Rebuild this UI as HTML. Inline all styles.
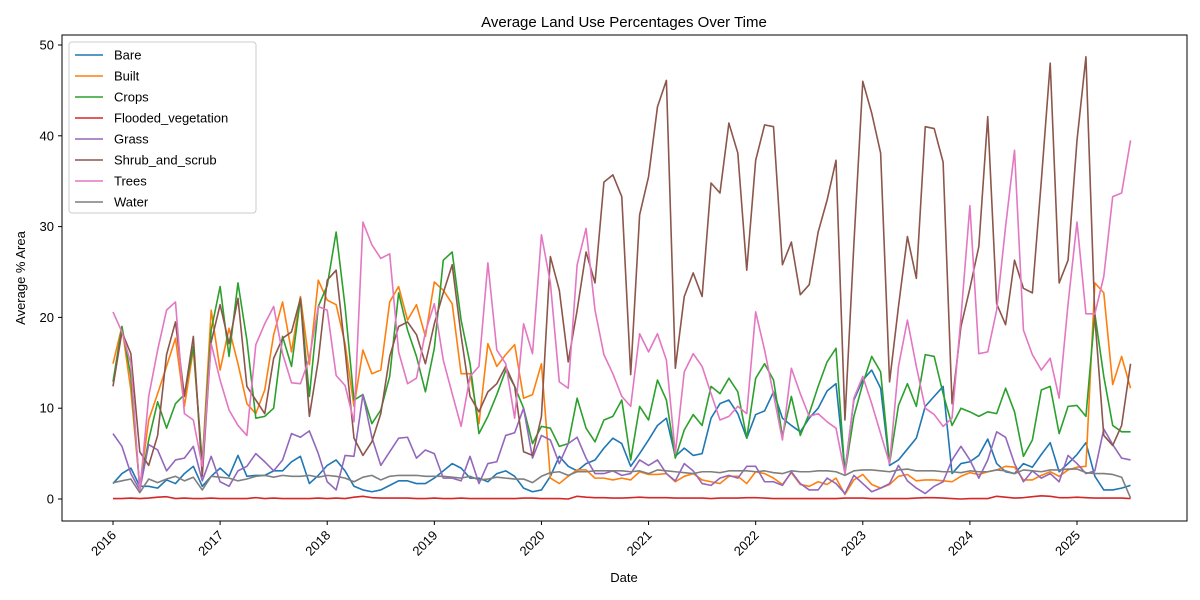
<!DOCTYPE html>
<html><head><meta charset="utf-8">
<style>
body{margin:0;background:#fff;}
svg{display:block;font-family:"Liberation Sans","DejaVu Sans",sans-serif;}
</style></head>
<body>
<svg id="chart" width="1200" height="600" viewBox="0 0 1200 600">
<rect width="1200" height="600" fill="#fff"/>
<text x="624" y="27" text-anchor="middle" font-size="15" fill="#000">Average Land Use Percentages Over Time</text>
<g id="grid"></g>
<g id="series"></g>
<rect x="62" y="35" width="1125" height="486" fill="none" stroke="#000" stroke-width="1"/>
<g id="axes"></g>
<text x="624" y="582" text-anchor="middle" font-size="13">Date</text>
<text x="25" y="278" text-anchor="middle" font-size="13" transform="rotate(-90 25 278)">Average % Area</text>
<g id="legend"></g>
</svg>
<script>
const names=["Bare","Built","Crops","Flooded_vegetation","Grass","Shrub_and_scrub","Trees","Water"];
const colors=["#1f77b4","#ff7f0e","#2ca02c","#d62728","#9467bd","#8c564b","#e377c2","#7f7f7f"];
const yearTicks=[2016,2017,2018,2019,2020,2021,2022,2023,2024,2025];
const yTicks=[0,10,20,30,40,50];
const bare=[1.7,2.8,3.4,1.4,1.4,1.2,2.1,1.7,2.8,3.6,1.4,2.5,3.4,2.5,4.8,2.5,2.6,2.6,3.1,3.1,4.1,4.7,1.7,2.6,3.7,4.3,3.1,1.4,1.0,0.8,1.0,1.5,2.0,2.0,1.7,1.7,2.3,3.1,3.9,3.4,2.3,2.3,1.9,2.8,3.1,2.5,1.2,0.8,1.0,2.5,4.7,3.6,3.1,3.9,4.3,5.6,6.7,6.1,3.6,5.0,6.5,8.1,8.9,4.7,5.6,4.8,5.0,8.9,10.5,10.9,9.4,6.7,9.3,9.7,11.8,8.9,8.1,7.4,8.9,10.0,11.9,12.7,3.1,10.9,13.1,14.2,12.2,3.7,4.3,5.5,6.7,10.2,11.3,12.4,2.8,3.9,4.1,4.8,6.6,3.9,3.0,2.8,3.9,3.5,4.9,6.2,3.0,3.9,4.9,6.2,2.5,1.0,1.0,1.2,1.5];
const built=[14.9,19.0,12.0,1.3,8.7,11.6,14.6,17.7,10.2,16.5,3.9,20.8,14.2,18.8,14.9,10.5,9.4,12.0,18.1,21.7,16.2,22.3,14.8,24.1,21.9,21.4,17.1,10.2,16.4,13.8,14.2,21.7,23.4,19.7,21.4,17.9,23.9,23.0,21.5,13.8,13.8,8.3,17.1,14.6,15.9,17.0,11.1,11.5,14.9,2.3,1.7,2.5,3.2,3.2,2.3,2.3,2.1,2.3,2.1,3.0,2.7,2.7,2.8,1.9,2.5,2.8,2.1,1.9,1.7,2.5,2.5,1.7,3.0,2.8,2.3,1.6,2.9,1.6,1.4,1.9,1.6,2.3,0.5,2.1,2.7,1.6,1.2,1.6,2.5,2.7,2.0,2.1,2.1,2.0,1.9,2.5,2.9,2.7,3.0,3.2,3.6,3.5,2.1,2.1,2.6,3.0,2.5,3.2,3.5,3.6,23.8,22.7,12.6,15.7,12.2];
const crops=[12.9,19.0,13.5,1.2,6.5,10.7,7.8,10.5,11.5,16.8,3.9,18.6,23.4,15.7,23.8,17.5,8.9,9.1,10.0,17.9,14.6,22.1,11.3,21.2,23.5,29.4,21.2,10.9,11.5,8.3,9.8,13.5,22.7,18.6,15.7,11.8,16.6,26.3,27.2,19.7,14.9,7.2,9.1,11.5,14.2,12.4,10.0,6.1,8.0,7.8,5.8,6.1,11.1,7.8,6.3,8.7,9.1,10.9,4.3,10.2,8.7,13.1,10.9,4.5,7.6,9.3,8.1,12.4,11.6,13.3,11.8,6.7,13.3,14.9,13.1,6.9,11.3,7.0,9.4,12.4,15.1,16.6,2.8,9.1,12.7,15.7,14.0,3.9,10.3,12.7,10.2,15.9,15.7,11.6,8.1,10.0,9.6,9.1,9.6,9.4,12.2,9.6,4.7,6.5,12.0,12.4,7.2,10.2,10.3,9.1,20.4,13.5,8.1,7.4,7.4];
const flooded=[0.05,0.05,0.1,0.05,0.1,0.2,0.25,0.05,0.1,0.05,0.05,0.1,0.05,0.05,0.05,0.05,0.15,0.05,0.1,0.05,0.05,0.05,0.05,0.1,0.05,0.1,0.05,0.2,0.3,0.15,0.1,0.1,0.1,0.1,0.05,0.05,0.1,0.05,0.05,0.1,0.05,0.05,0.05,0.05,0.05,0.05,0.1,0.1,0.05,0.05,0.05,0.0,0.3,0.2,0.15,0.15,0.1,0.1,0.15,0.2,0.15,0.15,0.15,0.1,0.1,0.1,0.1,0.05,0.1,0.1,0.1,0.15,0.15,0.1,0.05,0.05,0.05,0.05,0.05,0.05,0.05,0.05,0.1,0.1,0.1,0.05,0.05,0.05,0.05,0.05,0.1,0.15,0.15,0.1,0.05,0.0,0.05,0.05,0.05,0.3,0.2,0.1,0.15,0.25,0.35,0.3,0.15,0.15,0.2,0.15,0.1,0.1,0.1,0.1,0.05];
const grass=[7.2,5.8,2.8,1.0,6.0,5.4,3.1,4.3,4.5,5.8,2.0,4.7,1.9,1.4,3.1,3.6,5.0,4.1,3.1,4.3,7.2,6.8,7.5,5.0,1.9,1.0,4.8,4.7,11.5,6.8,3.7,5.2,6.7,6.8,4.5,5.4,5.0,2.3,2.3,2.0,4.7,1.7,3.9,4.1,7.0,7.3,10.0,4.5,7.0,6.5,3.9,6.1,6.8,4.5,2.8,2.8,3.1,2.6,2.8,4.3,3.7,4.3,2.8,2.0,3.9,3.1,1.7,1.5,2.3,2.6,2.3,3.6,3.6,1.9,1.9,1.5,3.0,1.7,1.0,1.0,2.3,1.7,0.6,2.6,1.7,0.8,1.2,1.7,3.7,2.0,1.2,0.6,1.4,1.9,4.3,5.8,4.3,2.3,4.3,7.4,6.8,3.9,1.9,3.1,2.3,2.8,1.9,4.8,3.9,2.8,3.1,7.7,6.0,4.5,4.3];
const shrub=[12.4,18.4,16.0,5.2,3.7,7.0,15.9,19.5,11.3,17.9,2.5,17.3,21.4,17.1,22.1,12.4,10.9,9.4,15.5,17.7,18.4,22.1,9.1,15.3,24.1,25.2,16.4,6.7,4.8,6.3,9.4,15.7,19.0,19.5,18.1,14.9,19.3,22.7,25.8,18.0,11.3,9.6,11.8,12.7,14.6,12.4,5.2,4.8,9.1,26.7,23.0,15.1,20.8,27.2,23.8,34.9,35.7,33.3,13.7,31.3,35.5,43.2,46.1,14.4,22.3,24.9,22.3,34.8,33.7,41.4,38.1,25.2,37.3,41.2,41.0,25.8,28.3,22.5,23.6,29.4,32.9,37.3,8.7,28.0,46.0,42.5,38.1,12.9,21.2,28.9,24.3,41.0,40.8,37.1,10.5,19.0,23.2,27.8,42.1,21.5,19.2,26.3,23.2,22.7,35.0,48.0,23.8,26.3,39.5,48.7,20.0,7.0,5.9,8.1,14.9];
const trees=[20.6,18.4,14.9,0.8,11.3,16.4,20.8,21.7,9.4,8.7,3.6,17.1,13.1,9.8,8.1,7.0,17.0,19.3,21.2,16.0,12.8,12.7,15.5,21.2,20.8,13.6,12.5,8.5,30.5,28.0,26.5,27.0,16.2,12.7,13.3,18.4,21.5,15.3,11.6,8.0,13.5,14.6,26.0,16.4,14.9,8.9,19.3,16.0,29.1,23.8,12.9,12.2,25.8,29.8,20.8,15.9,13.8,11.3,10.2,18.2,16.2,18.2,15.3,5.0,14.0,16.0,14.6,11.6,8.7,9.1,10.2,9.4,20.6,16.4,11.5,6.5,14.4,11.6,9.1,9.4,8.5,7.8,2.8,11.1,13.5,10.5,7.2,3.9,14.6,19.7,14.6,10.0,9.3,8.0,8.9,20.0,32.3,16.0,16.2,20.8,30.0,38.4,18.6,15.9,14.2,15.5,11.1,21.5,30.5,20.4,20.4,24.5,33.3,33.7,39.5];
const water=[1.8,2.0,2.2,0.7,2.2,1.8,2.2,2.5,2.0,2.4,1.0,2.5,2.4,2.3,2.0,2.2,2.5,2.6,2.4,2.6,2.5,2.5,2.6,2.4,2.6,2.5,2.3,1.9,2.4,2.6,2.1,2.5,2.6,2.6,2.6,2.5,2.5,2.5,2.4,2.3,2.5,2.1,2.2,2.4,2.3,2.2,2.2,1.8,2.5,2.9,3.0,2.6,3.0,3.0,3.1,3.1,3.1,3.1,3.0,3.1,2.8,3.2,3.1,3.0,2.9,2.8,3.0,3.0,2.9,3.1,3.1,3.1,3.0,3.1,2.9,2.8,3.1,3.0,3.0,3.1,3.1,3.0,2.6,3.1,3.2,3.2,3.1,3.0,3.2,3.3,3.1,3.1,3.1,3.0,3.0,2.9,3.1,3.0,3.0,3.2,3.1,2.8,3.2,3.1,3.0,3.2,3.2,3.3,3.3,2.9,2.8,2.8,2.7,2.4,0.1];

const NS="http://www.w3.org/2000/svg";
const series=[bare,built,crops,flooded,grass,shrub,trees,water];
const slugs=["bare","built","crops","flooded-vegetation","grass","shrub-and-scrub","trees","water"];
function xScale(i){return 113+i*(1077-113)/108;}
function yScale(v){return 499-v*(499-45)/50;}
function mk(tag,attrs,parent){const e=document.createElementNS(NS,tag);for(const k in attrs)e.setAttribute(k,attrs[k]);parent.appendChild(e);return e;}

const axes=document.getElementById('axes');
yTicks.forEach(v=>{
  const y=yScale(v);
  const t=mk('line',{x1:58,x2:62,y1:y,y2:y,stroke:'#000'},axes);
  
  
  const l=mk('text',{x:54,y:y+4.5,'text-anchor':'end','font-size':13},axes);
  l.textContent=v;
  
  
});
yearTicks.forEach(yr=>{
  const x=xScale((yr-2016)*12);
  const t=mk('line',{x1:x,x2:x,y1:521,y2:525,stroke:'#000'},axes);
  
  
  const l=mk('text',{x:x+4,y:536,'text-anchor':'end','font-size':13,transform:'rotate(-45 '+(x+4)+' 536)'},axes);
  l.textContent=yr;
  
  
});

const sg=document.getElementById('series');
series.forEach((arr,k)=>{
  const d=arr.map((v,i)=>(i?'L':'M')+xScale(i).toFixed(2)+','+yScale(v).toFixed(2)).join('');
  const p=mk('path',{d:d,fill:'none',stroke:colors[k],'stroke-width':1.6,'stroke-linejoin':'round'},sg);
  
  
});

const lg=document.getElementById('legend');
const box=mk('rect',{x:69,y:42,width:187,height:171,rx:3,fill:'#fff','fill-opacity':0.8,stroke:'#ccc'},lg);


names.forEach((n,k)=>{
  const y=55+k*21;
  const ln=mk('line',{x1:75,x2:103,y1:y,y2:y,stroke:colors[k],'stroke-width':1.6},lg);
  
  
  const tx=mk('text',{x:114,y:y+4.5,'font-size':13},lg);
  tx.textContent=n;
  
  
});
</script>
</body></html>
